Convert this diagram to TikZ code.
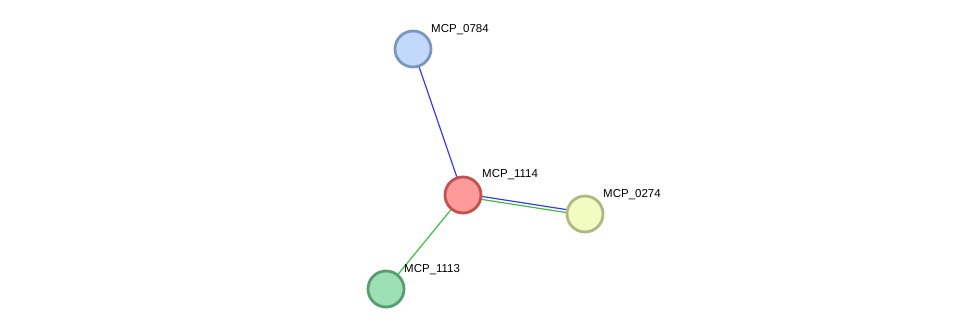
\documentclass[tikz,border=0pt]{standalone}
\usepackage{fontspec}
\setmainfont{Liberation Sans}
\definecolor{bfill}{HTML}{C2D9FC}\definecolor{bdraw}{HTML}{7D96BE}
\definecolor{rfill}{HTML}{FF9A9A}\definecolor{rdraw}{HTML}{C05252}
\definecolor{yfill}{HTML}{F2FCC2}\definecolor{ydraw}{HTML}{B0B87E}
\definecolor{gfill}{HTML}{9DE0B6}\definecolor{gdraw}{HTML}{5A9C72}
\definecolor{eblue}{HTML}{3A3AF0}\definecolor{egreen}{HTML}{3CC03C}
\begin{document}
\begin{tikzpicture}[x=1pt,y=-1pt,
  prot/.style={circle,minimum size=36pt,inner sep=0pt,line width=2.8pt},
  lbl/.style={anchor=west,inner sep=0pt,font=\fontsize{11.5}{12}\selectfont},
  ln/.style={line width=1.2pt}]
\useasboundingbox (0,0) rectangle (975,334);
\coordinate (a) at (413,49);
\coordinate (b) at (463,195);
\coordinate (c) at (585,214);
\coordinate (d) at (386,289);
\draw[ln,eblue] (a) -- (b);
\draw[ln,egreen] (b) -- (d);
\draw[ln,eblue] ([yshift=1.5pt]b) -- ([yshift=1.5pt]c);
\draw[ln,egreen] ([yshift=-1.5pt]b) -- ([yshift=-1.5pt]c);
\node[prot,fill=bfill,draw=bdraw] (na) at (a) {};
\node[prot,fill=rfill,draw=rdraw] (nb) at (b) {};
\node[prot,fill=yfill,draw=ydraw] (nc) at (c) {};
\node[prot,fill=gfill,draw=gdraw] (nd) at (d) {};
\node[lbl] (la) at (431,29.5) {MCP\_0784};
\node[lbl] (lb) at (482,174.5) {MCP\_1114};
\node[lbl] (lc) at (603,194.5) {MCP\_0274};
\node[lbl] (ld) at (404,269.5) {MCP\_1113};
\end{tikzpicture}
\end{document}
